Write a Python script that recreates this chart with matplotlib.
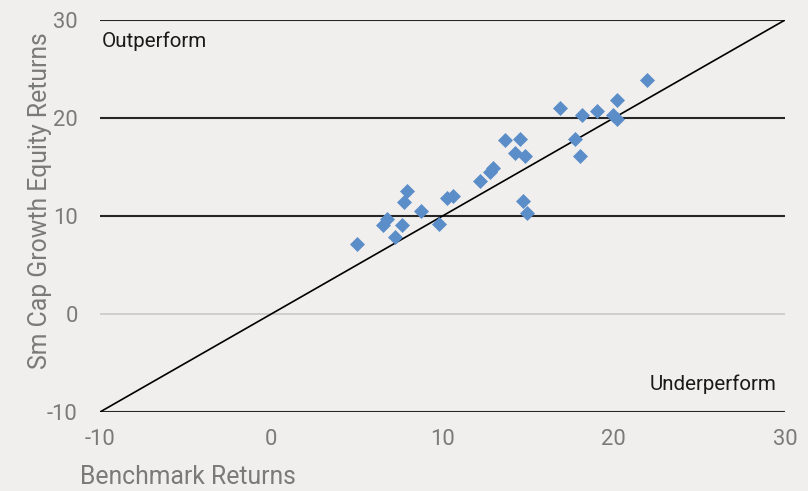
import numpy as np
import matplotlib
matplotlib.use('Agg')
import matplotlib.pyplot as plt

plt.rcParams['font.family'] = ['Roboto', 'DejaVu Sans']
plt.rcParams['axes.unicode_minus'] = False

# benchmark vs. fund returns
bench = [5.01, 6.53, 6.76, 7.23, 7.64, 7.75, 7.93, 8.77, 9.80, 10.29,
         10.64, 12.19, 12.77, 12.92, 13.65, 14.53, 14.23, 14.82, 14.72, 14.91,
         16.86, 18.13, 19.04, 20.17, 19.97, 20.21, 17.74, 18.03, 21.96]
fund = [7.14, 9.08, 9.69, 7.86, 9.08, 11.38, 12.55, 10.51, 9.18, 11.84,
        12.09, 13.57, 14.54, 14.90, 17.76, 17.81, 16.43, 16.17, 11.58, 10.26,
        21.05, 20.31, 20.71, 21.84, 20.31, 19.85, 17.83, 16.17, 23.88]
xticks = [-10, 0, 10, 20, 30]
yticks = [-10, 0, 10, 20, 30]

bg = '#f0efed'
grey = '#7a7a7a'

fig = plt.figure(figsize=(8.08, 4.91), dpi=100, facecolor=bg)
ax = fig.add_axes([100/808, 79/491, 685/808, 392/491], facecolor=bg)

# horizontal gridlines
for v in yticks:
    if v == 0:
        ax.axhline(v, color='#c9c8c6', lw=1.2, zorder=1)
    else:
        ax.axhline(v, color='#262626', lw=1.5, zorder=1)

# 45 degree line
ax.plot([-10, 30], [-10, 30], color='black', lw=1.2, zorder=2)

ax.plot(bench, fund, 'D', color='#5b8dc9', ms=7.5, mec='#5b8dc9', mew=0.5, zorder=3)

ax.set_xlim(-10, 30)
ax.set_ylim(-10, 30)
ax.set_xticks(xticks)
ax.set_yticks(yticks)
for s in ax.spines.values():
    s.set_visible(False)
ax.tick_params(length=0, colors=grey, labelsize=15.8)
ax.tick_params(axis='x', pad=12)
ax.tick_params(axis='y', pad=16)

ax.set_xlabel('Benchmark Returns', color=grey, fontsize=17.8)
ax.xaxis.set_label_coords(-0.029, -0.135)
ax.xaxis.label.set_horizontalalignment('left')
ax.set_ylabel('Sm Cap Growth Equity Returns', color=grey, fontsize=17.8)
ax.yaxis.set_label_coords(-0.07, 0.54)

ax.text(-9.9, 27.8, 'Outperform', fontsize=14.8, color='#1a1a1a', va='center', ha='left')
ax.text(29.5, -7.2, 'Underperform', fontsize=14.8, color='#1a1a1a', va='center', ha='right')

fig.savefig('out.png', dpi=100, facecolor=bg)
